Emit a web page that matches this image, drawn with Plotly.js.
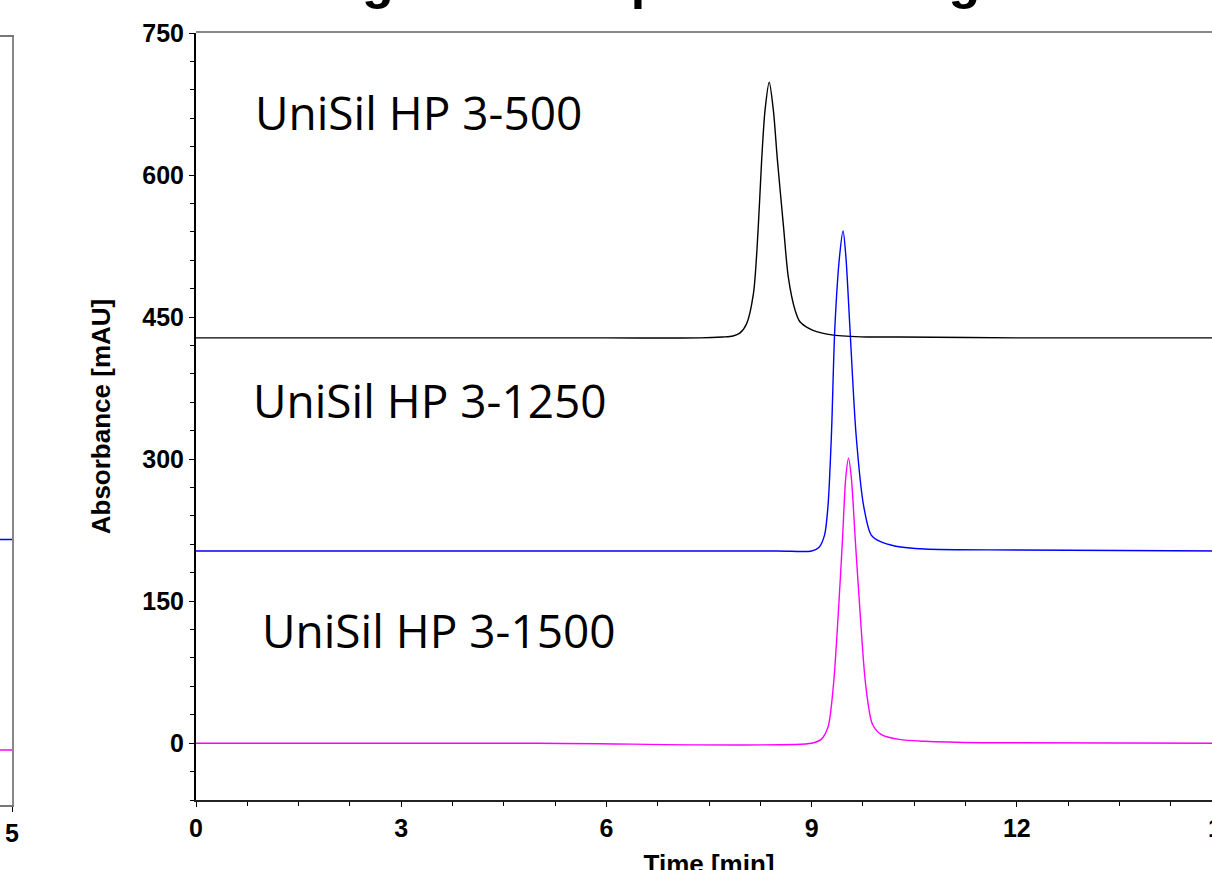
<!DOCTYPE html>
<html><head><meta charset="utf-8">
<script src="https://cdn.plot.ly/plotly-3.0.1.min.js"></script>
<style>
html,body{margin:0;padding:0;overflow:hidden;background:#fff;width:1212px;height:870px;}
#chart{position:absolute;left:-100px;top:0;width:1340px;height:890px;}
</style>
</head><body><div id="chart"></div>
<script>
// ---- data (time in min, absorbance in mAU) ----
const chartTitle = 'Large Pore Separation Range';
const seriesNames = ['UniSil HP 3-500', 'UniSil HP 3-1250', 'UniSil HP 3-1500'];

const time500 = [0, 3, 6, 7.37, 7.7, 7.85, 7.95, 8.05, 8.15, 8.22, 8.27, 8.32, 8.38, 8.44, 8.50, 8.59, 8.66, 8.76, 8.83, 9.02, 9.32, 9.81, 10.29, 12, 15];
const abs500  = [428, 428, 428, 428, 429, 430, 433, 443, 475, 545, 616, 669, 698, 669, 616, 545, 492, 457, 445, 436, 431, 429, 429, 428, 428];

const time1250 = [0, 5, 8.5, 9.0, 9.11, 9.19, 9.24, 9.29, 9.34, 9.41, 9.46, 9.50, 9.56, 9.65, 9.76, 9.87, 10.0, 10.23, 10.65, 12, 15];
const abs1250  = [203, 203, 203, 203, 207, 220, 251, 326, 439, 515, 541, 515, 439, 326, 251, 220, 213, 208, 205, 204, 203];

const time1500 = [0, 5, 9.0, 9.14, 9.24, 9.32, 9.39, 9.45, 9.50, 9.54, 9.58, 9.64, 9.71, 9.79, 9.89, 10.02, 10.28, 10.65, 11.5, 15];
const abs1500  = [0, 0, 0, 4, 17, 62, 137, 213, 281, 301, 281, 213, 137, 62, 20, 9, 4, 2, 0.5, 0];

// neighbouring (cropped) panel on the left
const leftTime = [0, 5];
const leftBlue = [220, 220];
const leftPink = [-2, -2];

const xTickLabels = ['0', '3', '6', '9', '12', '15'];
const xTickVals = [0, 3, 6, 9, 12, 15];
const yTickVals = [0, 150, 300, 450, 600, 750];

const labelPos = [[0.84, 667], [0.80, 362], [0.94, 120]];

// ---- layout helpers ----
const W = 1340, H = 890, OFF = 100;
const px = x => (x + OFF) / W;
const py = y => (H - y) / H;

const tickFont = {family: 'Liberation Sans, Arial, sans-serif', size: 25, weight: 'bold', color: '#000'};
const axTitleFont = {family: 'Liberation Sans, Arial, sans-serif', size: 26, weight: 'bold', color: '#000'};
const colors = ['#000000', '#0000ff', '#ff00ff'];

const traces = [
  {x: time500, y: abs500, name: seriesNames[0]},
  {x: time1250, y: abs1250, name: seriesNames[1]},
  {x: time1500, y: abs1500, name: seriesNames[2]}
].map((t, i) => Object.assign(t, {type: 'scatter', mode: 'lines', xaxis: 'x', yaxis: 'y',
  line: {color: colors[i], width: 1.4, shape: 'spline', smoothing: 0.8}, hoverinfo: 'skip'}));

traces.push({x: leftTime, y: leftBlue, type: 'scatter', mode: 'lines', xaxis: 'x2', yaxis: 'y2',
  line: {color: colors[1], width: 1.4}, hoverinfo: 'skip'});
traces.push({x: leftTime, y: leftPink, type: 'scatter', mode: 'lines', xaxis: 'x2', yaxis: 'y2',
  line: {color: colors[2], width: 1.4}, hoverinfo: 'skip'});

const annotations = seriesNames.map((s, i) => ({
  text: s, xref: 'x', yref: 'y', x: labelPos[i][0], y: labelPos[i][1],
  xanchor: 'left', yanchor: 'middle', showarrow: false,
  font: {family: 'Open Sans, sans-serif', size: 46, color: '#000'}
}));
// chart title (cropped at the top edge in the reference)
annotations.push({
  text: chartTitle, xref: 'paper', yref: 'paper', x: px(645), y: py(11),
  xanchor: 'center', yanchor: 'bottom', showarrow: false,
  font: {family: 'Liberation Sans, Arial, sans-serif', size: 52, weight: 'bold', color: '#000'}
});

const layout = {
  width: W, height: H,
  margin: {l: 0, r: 0, t: 0, b: 0},
  paper_bgcolor: '#fff', plot_bgcolor: 'rgba(0,0,0,0)',
  showlegend: false,
  xaxis: {
    domain: [px(196), px(1222)], range: [0, 15], anchor: 'y',
    tickmode: 'array', tickvals: xTickVals, ticktext: xTickLabels,
    ticks: 'outside', ticklen: 5, tickwidth: 1, tickcolor: '#000',
    minor: {dtick: 0.75, tick0: 0, ticks: 'outside', ticklen: 4, tickwidth: 1, tickcolor: '#000', showgrid: false},
    showline: true, linecolor: '#222', linewidth: 2,
    showgrid: false, zeroline: false, tickfont: tickFont,
    title: {text: 'Time [min]', font: axTitleFont, standoff: 14}
  },
  yaxis: {
    domain: [py(800), py(33)], range: [-60, 750], anchor: 'x',
    tickmode: 'array', tickvals: yTickVals,
    ticks: 'outside', ticklen: 5, tickwidth: 1, tickcolor: '#000',
    minor: {dtick: 30, tick0: 0, ticks: 'outside', ticklen: 4, tickwidth: 1, tickcolor: '#000', showgrid: false},
    showline: true, linecolor: '#000', linewidth: 2,
    showgrid: false, zeroline: false, tickfont: tickFont,
    title: {text: 'Absorbance [mAU]', font: axTitleFont, standoff: 24}
  },
  xaxis2: {
    domain: [0, px(12)], range: [0, 5], anchor: 'y2',
    tickmode: 'array', tickvals: [5], ticktext: ['5'],
    ticks: 'outside', ticklen: 5, tickcolor: '#000',
    showline: true, mirror: true, linecolor: '#777', linewidth: 2,
    showgrid: false, zeroline: false, tickfont: tickFont
  },
  yaxis2: {
    domain: [py(805), py(37)], range: [-60, 750], anchor: 'x2',
    showline: true, mirror: true, linecolor: '#888', linewidth: 2,
    showticklabels: false, ticks: '', showgrid: false, zeroline: false
  },
  shapes: [{
    type: 'line', xref: 'paper', yref: 'paper',
    x0: px(196), x1: px(1222), y0: py(32), y1: py(32),
    line: {color: '#888', width: 2}
  }],
  annotations: annotations
};

Plotly.newPlot('chart', traces, layout, {staticPlot: true, displayModeBar: false});
</script></body></html>
